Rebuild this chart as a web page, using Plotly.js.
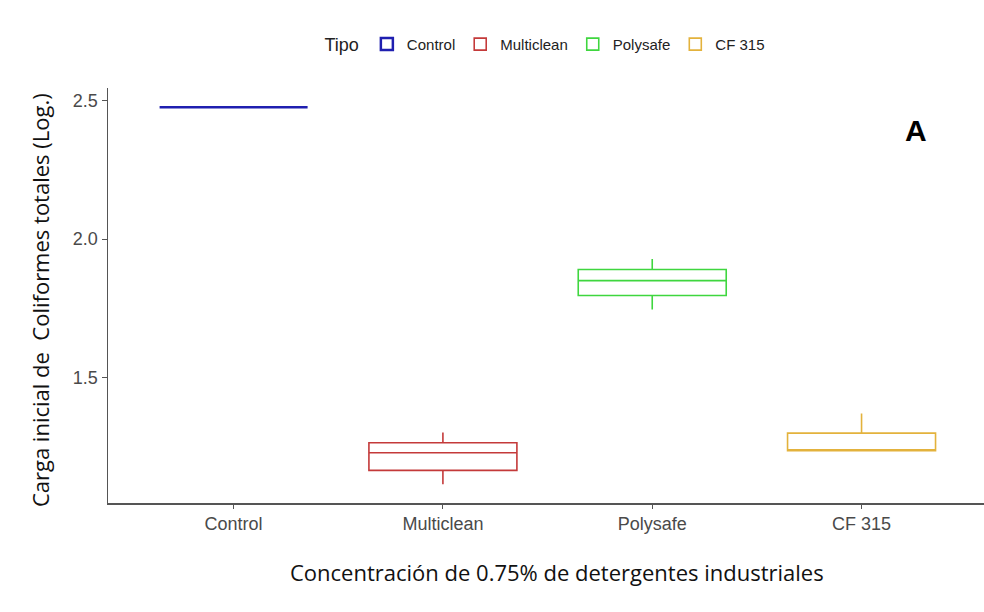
<!DOCTYPE html>
<html>
<head>
<meta charset="utf-8">
<script src="https://cdn.plot.ly/plotly-3.0.1.min.js"></script>
<style>html,body{margin:0;padding:0;background:#fff;}#chart{width:984px;height:612px;}</style>
</head>
<body>
<div id="chart"></div>
<script>
// Data
var categories = ["Control", "Multiclean", "Polysafe", "CF 315"];
var lowerFence = [2.477, 1.113, 1.745, 1.234];
var q1Values   = [2.477, 1.163, 1.796, 1.234];
var medians    = [2.477, 1.227, 1.850, 1.234];
var q3Values   = [2.477, 1.263, 1.890, 1.298];
var upperFence = [2.477, 1.300, 1.928, 1.369];
var colors     = ["#1f1fb0", "#c43a3a", "#3fd63f", "#e3b23c"];
var yTicks = [1.5, 2.0, 2.5];
var yTickText = ["1.5", "2.0", "2.5"];

var sans = "Arial, 'Liberation Sans', sans-serif";
var body = "'Open Sans', 'Noto Sans', sans-serif";

var traces = categories.map(function (c, i) {
  return {
    type: "box",
    name: c,
    x: [c],
    q1: [q1Values[i]],
    median: [medians[i]],
    q3: [q3Values[i]],
    lowerfence: [lowerFence[i]],
    upperfence: [upperFence[i]],
    width: 0.707,
    whiskerwidth: 0,
    fillcolor: "rgba(255,255,255,0)",
    line: { color: colors[i], width: i === 0 ? 2.5 : 1.6 },
    hoverinfo: "y"
  };
});

var layout = {
  width: 984,
  height: 612,
  margin: { l: 108, r: 0, t: 88, b: 109 },
  paper_bgcolor: "#ffffff",
  plot_bgcolor: "#ffffff",
  boxmode: "overlay",
  showlegend: true,
  legend: {
    orientation: "h",
    x: 0.5, xanchor: "center",
    y: 1.104, yanchor: "middle",
    title: { text: "Tipo", font: { family: sans, size: 18, color: "#222" } },
    font: { family: sans, size: 15, color: "#222" },
    itemwidth: 30,
    tracegroupgap: 0
  },
  xaxis: {
    type: "category",
    categoryorder: "array",
    categoryarray: categories,
    range: [-0.6, 3.585],
    showline: true, linecolor: "#555", linewidth: 1.5,
    ticks: "outside", ticklen: 4, tickcolor: "#555",
    showgrid: false, zeroline: false,
    tickfont: { family: sans, size: 18, color: "#4a4a4a" }
  },
  yaxis: {
    range: [1.045, 2.547],
    tickvals: yTicks,
    ticktext: yTickText,
    showline: true, linecolor: "#555", linewidth: 1.5,
    ticks: "outside", ticklen: 5, tickcolor: "#555",
    showgrid: false, zeroline: false,
    tickfont: { family: sans, size: 18, color: "#4a4a4a" }
  },
  annotations: [
    {
      text: "Concentración de 0.75% de detergentes industriales",
      xref: "paper", yref: "paper", x: 0.5126, y: -0.166,
      xanchor: "center", yanchor: "middle", showarrow: false,
      font: { family: body, size: 22, color: "#111" }
    },
    {
      text: "Carga inicial de  Coliformes totales (Log.)",
      xref: "paper", yref: "paper", x: -0.0776, y: 0.489,
      xanchor: "center", yanchor: "middle", textangle: -90, showarrow: false,
      font: { family: body, size: 22, color: "#111" }
    },
    {
      text: "<b>A</b>", xref: "paper", yref: "paper",
      x: 0.922, y: 0.897, xanchor: "center", yanchor: "middle",
      showarrow: false,
      font: { family: sans, size: 30, color: "#000" }
    }
  ]
};

Plotly.newPlot("chart", traces, layout, { displayModeBar: false, staticPlot: true });
</script>
</body>
</html>
